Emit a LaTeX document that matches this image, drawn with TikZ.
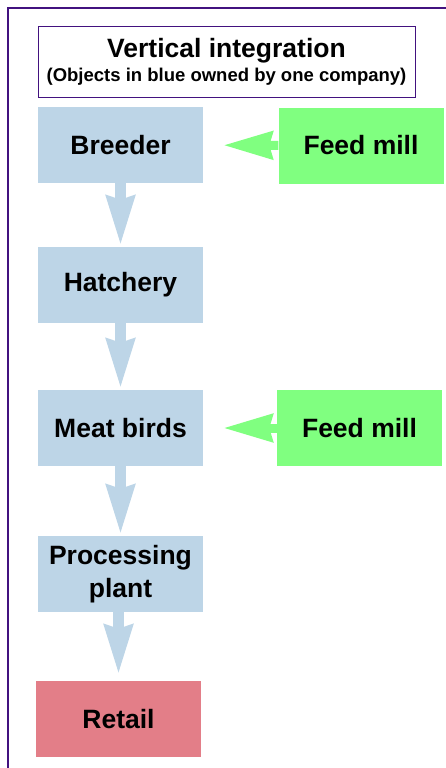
\documentclass[tikz,border=0pt]{standalone}
\usepackage{fontspec}
\setmainfont{Liberation Sans}
\usetikzlibrary{arrows.meta}

\definecolor{ownblue}{HTML}{BDD5E7}
\definecolor{millgreen}{HTML}{80FF80}
\definecolor{shopred}{HTML}{E37E88}
\definecolor{framepurple}{HTML}{42127F}

\tikzset{
  stagebox/.style={fill=ownblue, minimum width=165pt, minimum height=76pt,
    align=center, font=\bfseries\fontsize{26.5}{33}\selectfont},
  millbox/.style={stagebox, fill=millgreen},
  shopbox/.style={stagebox, fill=shopred},
  flowarrow/.style={draw=ownblue, line width=11pt,
    -{Stealth[length=49pt, width=27pt, inset=3pt]}},
  feedarrow/.style={flowarrow, draw=millgreen, line width=9pt, shorten >=20pt}
}

\begin{document}
\begin{tikzpicture}[x=1pt, y=-1pt]
  \useasboundingbox (0,0) rectangle (446,768);
  % frame, cut off at right and bottom
  \draw[framepurple, line width=2pt] (8,775) -- (8,8) -- (452,8);

  % title
  \node[draw=framepurple, line width=1pt, minimum width=377pt, minimum height=70pt,
    align=center] (title) at (226.5,62)
    {{\bfseries\fontsize{26.5}{29}\selectfont Vertical integration}\\[4pt]
     {\bfseries\fontsize{18.5}{20}\selectfont (Objects in blue owned by one company)}};

  % chain of stages
  \node[stagebox] (breeder) at (120.5,145) {Breeder};
  \node[stagebox] (hatchery) at (120.5,285) {Hatchery};
  \node[stagebox] (meat) at (120.5,428) {Meat birds};
  \node[stagebox] (plant) at (120.5,574) {Processing\\plant};
  \node[shopbox] (retail) at (118.5,719) {Retail};

  % feed mills
  \node[millbox] (mill1) at (361,145.5) {Feed mill};
  \node[millbox] (mill2) at (359.5,428) {Feed mill};

  % arrows
  \draw[flowarrow, shorten >=1pt] (breeder) -- (hatchery);
  \draw[flowarrow, shorten >=1pt] (hatchery) -- (meat);
  \draw[flowarrow, shorten >=1pt] (meat) -- (plant);
  \draw[flowarrow, shorten >=6pt] (plant.south -| retail) -- (retail);
  \draw[feedarrow] (mill1) -- (breeder);
  \draw[feedarrow] (mill2) -- (meat);
\end{tikzpicture}
\end{document}
